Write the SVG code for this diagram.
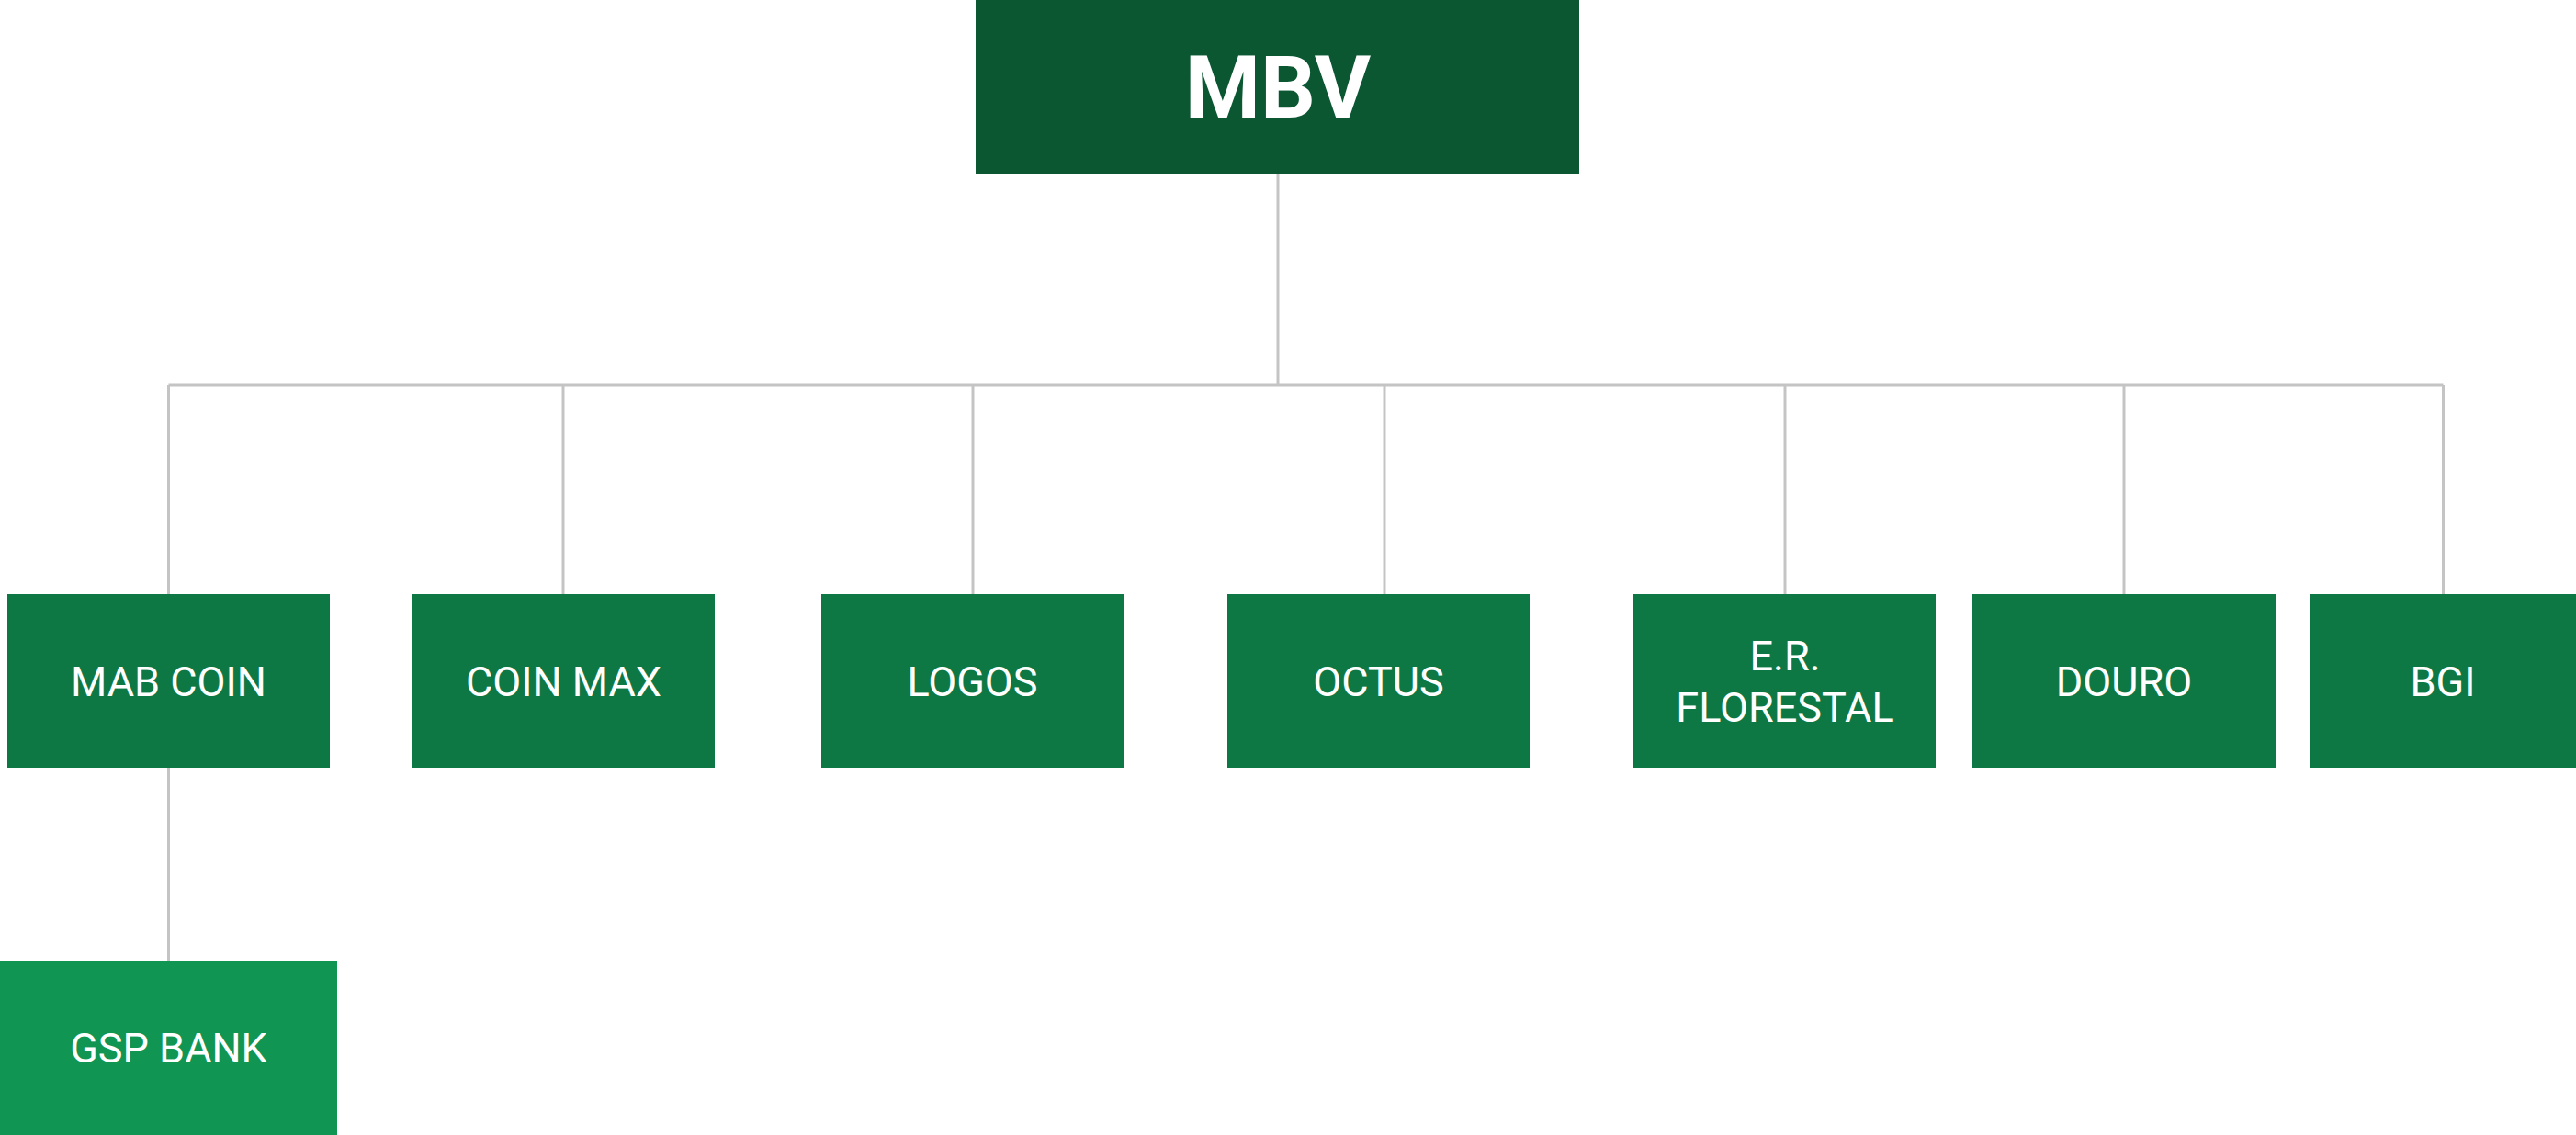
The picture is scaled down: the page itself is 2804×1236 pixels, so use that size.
<svg xmlns="http://www.w3.org/2000/svg" width="2804" height="1236" viewBox="0 0 2804 1236">
  <style>
    .conn { stroke: #c4c4c4; stroke-width: 3; fill: none; }
    .child { fill: #0e7845; }
    .lbl { font-family: Roboto, "Liberation Sans", sans-serif; font-size: 45px; fill: #ffffff; text-anchor: middle; }
    .root-lbl { font-family: Roboto, "Liberation Sans", sans-serif; font-size: 94px; font-weight: bold; fill: #ffffff; text-anchor: middle; }
  </style>
  <rect x="0" y="0" width="2804" height="1236" fill="#ffffff"/>
  <g id="connectors">
    <line class="conn" x1="1391" y1="190" x2="1391" y2="419"/>
    <line class="conn" x1="183.5" y1="419" x2="2659.5" y2="419"/>
    <line class="conn" x1="183.5" y1="419" x2="183.5" y2="647"/>
    <line class="conn" x1="613" y1="419" x2="613" y2="647"/>
    <line class="conn" x1="1059" y1="419" x2="1059" y2="647"/>
    <line class="conn" x1="1507" y1="419" x2="1507" y2="647"/>
    <line class="conn" x1="1943" y1="419" x2="1943" y2="647"/>
    <line class="conn" x1="2312" y1="419" x2="2312" y2="647"/>
    <line class="conn" x1="2659.5" y1="419" x2="2659.5" y2="647"/>
    <line class="conn" x1="183.5" y1="836" x2="183.5" y2="1046"/>
  </g>
  <g id="node-mbv">
    <rect x="1062" y="0" width="657" height="190" fill="#0a5732"/>
    <text class="root-lbl" x="1391" y="128">MBV</text>
  </g>
  <g id="node-mab-coin">
    <rect class="child" x="8" y="647" width="351" height="189"/>
    <text class="lbl" x="183.5" y="758">MAB COIN</text>
  </g>
  <g id="node-coin-max">
    <rect class="child" x="449" y="647" width="329" height="189"/>
    <text class="lbl" x="613.5" y="758">COIN MAX</text>
  </g>
  <g id="node-logos">
    <rect class="child" x="894" y="647" width="329" height="189"/>
    <text class="lbl" x="1058.5" y="758">LOGOS</text>
  </g>
  <g id="node-octus">
    <rect class="child" x="1336" y="647" width="329" height="189"/>
    <text class="lbl" x="1500.5" y="758">OCTUS</text>
  </g>
  <g id="node-er-florestal">
    <rect class="child" x="1778" y="647" width="329" height="189"/>
    <text class="lbl" x="1943" y="730">E.R.</text>
    <text class="lbl" x="1943" y="786">FLORESTAL</text>
  </g>
  <g id="node-douro">
    <rect class="child" x="2147" y="647" width="330" height="189"/>
    <text class="lbl" x="2312" y="758">DOURO</text>
  </g>
  <g id="node-bgi">
    <rect class="child" x="2514" y="647" width="290" height="189"/>
    <text class="lbl" x="2659" y="758">BGI</text>
  </g>
  <g id="node-gsp-bank">
    <rect x="0" y="1046" width="367" height="190" fill="#109552"/>
    <text class="lbl" x="183.5" y="1157">GSP BANK</text>
  </g>
</svg>
